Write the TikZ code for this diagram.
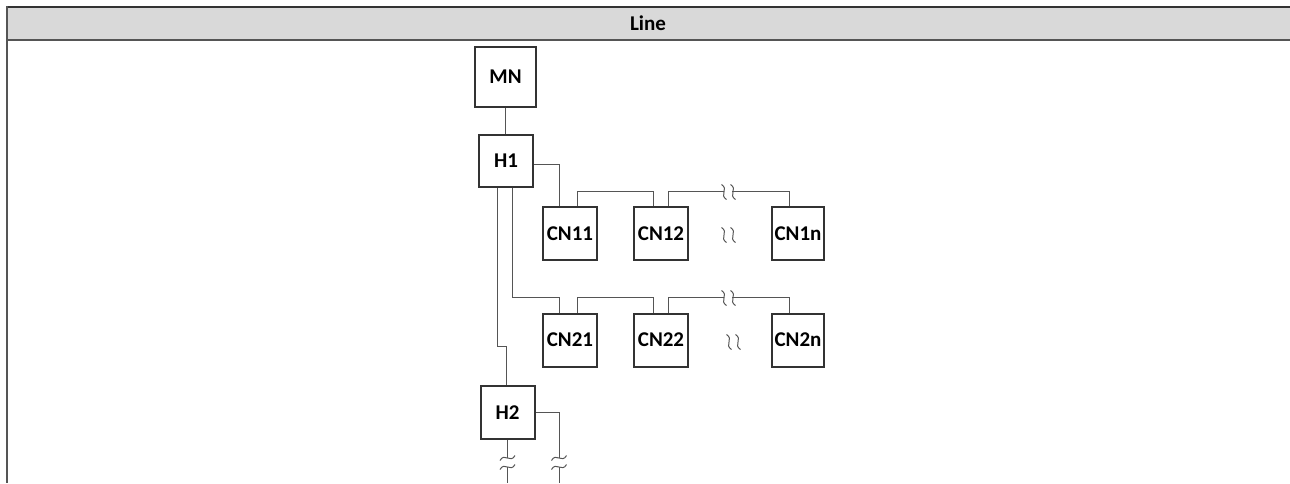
\documentclass[tikz,border=0pt]{standalone}
\usepackage{fontspec}
\setsansfont{Carlito}
\usepackage{xcolor}
\definecolor{boxline}{RGB}{51,51,51}
\definecolor{wireline}{RGB}{85,85,85}
\definecolor{headfill}{RGB}{217,217,217}
\usepackage{tikz}
\usetikzlibrary{positioning,calc}

\begin{document}
\begin{tikzpicture}[x=1pt,y=-1pt,
      dev/.style={rectangle,draw=boxline,line width=2pt,minimum width=54pt,minimum height=53pt,inner sep=0pt,
        font=\sffamily\bfseries\fontsize{21}{24}\selectfont},
      wire/.style={draw=wireline,line width=1pt},
      vbrk/.pic={\draw[wire] (-2.5,-7.5) .. controls (5,-3) and (-5,3) .. (2.5,7.5);},
      hbrk/.pic={\draw[wire] (-7.5,2.5) .. controls (-3,-6) and (3,6) .. (7.5,-2.5);}]
    \useasboundingbox (0,0) rectangle (1290,483);
    % header
    \fill[headfill] (7,7) rectangle (1290,40);
    \draw[boxline,line width=1.5pt] (7,7) -- (1290,7);
    \draw[wireline,line width=1.5pt] (7,40) -- (1290,40);
    \draw[wireline,line width=2pt] (7,6.25) -- (7,483);
    \node[font=\sffamily\bfseries\fontsize{21}{24}\selectfont] (title) at (648,23.5) {Line};
    % managing node and hubs
    \node[dev,minimum width=61pt,minimum height=60pt] (MN) at (505.5,77) {MN};
    \node[dev,minimum height=52pt] (H1) at (506,161) {H1};
    \node[dev] (H2) at (507.5,412.5) {H2};
    % first line
    \node[dev] (CN11) at (570,233.5) {CN11};
    \node[dev] (CN12) at (661,233.5) {CN12};
    \node[dev,minimum width=52pt] (CN1n) at (798,233.5) {CN1n};
    % second line
    \node[dev] (CN21) at (570,340) {CN21};
    \node[dev] (CN22) at (661,340) {CN22};
    \node[dev,minimum width=52pt] (CN2n) at (798,340) {CN2n};
    % open ends below H2
    \coordinate (E1) at (507.5,483);
    \coordinate (E2) at (559,483);
    % connections
    \draw[wire] (MN) -- (MN |- H1.north);
    \draw[wire] ([yshift=-3pt]H1.east) -| ([xshift=-11pt]CN11.north);
    \draw[wire] ([xshift=7pt]CN11.north) -- ([xshift=7pt,yshift=15pt]CN11.north) -| ([xshift=-8pt]CN12.north);
    \draw[wire] ([xshift=7pt]CN12.north) -- ([xshift=7pt,yshift=15pt]CN12.north) -- ([xshift=-74pt,yshift=15pt]CN1n.north);
    \draw[wire] ([xshift=-66pt,yshift=15pt]CN1n.north) -| ([xshift=-9pt]CN1n.north);
    \draw[wire] ([xshift=6pt]H1.south) |- ([xshift=-11pt,yshift=15pt]CN21.north) -- ([xshift=-11pt]CN21.north);
    \draw[wire] ([xshift=7pt]CN21.north) -- ([xshift=7pt,yshift=15pt]CN21.north) -| ([xshift=-8pt]CN22.north);
    \draw[wire] ([xshift=7pt]CN22.north) -- ([xshift=7pt,yshift=15pt]CN22.north) -- ([xshift=-74pt,yshift=15pt]CN2n.north);
    \draw[wire] ([xshift=-66pt,yshift=15pt]CN2n.north) -| ([xshift=-9pt]CN2n.north);
    \draw[wire] ([xshift=-9pt]H1.south) |- ([xshift=-1.5pt,yshift=39pt]H2.north) -- ([xshift=-1.5pt]H2.north);
    \draw[wire] (H2.south) -- ($(E1)+(0,-25)$);
    \draw[wire] ($(E1)+(0,-16)$) -- (E1);
    \draw[wire] (H2.east) -| ($(E2)+(0,-25)$);
    \draw[wire] ($(E2)+(0,-16)$) -- (E2);
    % breaks
    \foreach \bx/\by in {724/192,733/192,724/298,733/298,724/235,733/235,729/342,738/342} \pic at (\bx,\by) {vbrk};
    \foreach \n in {E1,E2} {
      \pic at ($(\n)+(0,-25)$) {hbrk};
      \pic at ($(\n)+(0,-16)$) {hbrk};
    }
  \end{tikzpicture}
\end{document}
